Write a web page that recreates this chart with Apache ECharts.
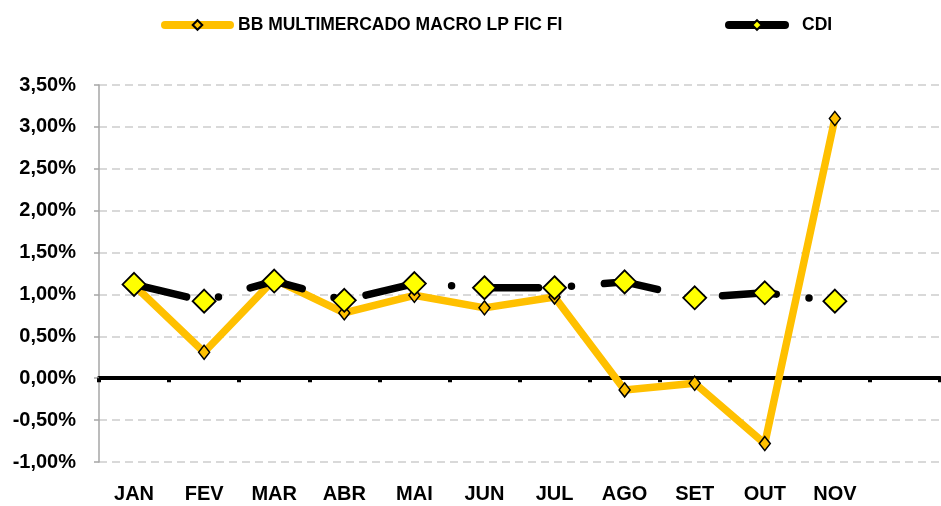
<!DOCTYPE html>
<html>
<head>
<meta charset="utf-8">
<script src="https://cdn.jsdelivr.net/npm/echarts@6/dist/echarts.min.js"></script>
<style>
  html, body { margin: 0; padding: 0; background: #fff; }
  #chart { width: 941px; height: 506px; }
</style>
</head>
<body>
<div id="chart"></div>
<script>
// meses (DEZ fica vazio)
const meses = ['JAN', 'FEV', 'MAR', 'ABR', 'MAI', 'JUN', 'JUL', 'AGO', 'SET', 'OUT', 'NOV', ''];
const fundo = [1.11, 0.31, 1.18, 0.78, 0.99, 0.84, 0.97, -0.14, -0.06, -0.78, 3.10, null];
const cdi = [1.12, 0.92, 1.16, 0.93, 1.13, 1.08, 1.08, 1.15, 0.96, 1.02, 0.92, null];
const nomeFundo = 'BB MULTIMERCADO MACRO LP FIC FI';
const nomeCdi = 'CDI';

const fonte = "'Liberation Sans', Arial, sans-serif";
const chart = echarts.init(document.getElementById('chart'), null, { renderer: 'canvas' });

const fmtPct = v => v.toFixed(2).replace('.', ',') + '%';

chart.setOption({
    animation: false,
    backgroundColor: '#ffffff',
    legend: [
        {
            left: 156,
            top: 11,
            itemWidth: 65,
            itemHeight: 12,
            data: [{
                name: nomeFundo,
                lineStyle: { type: 'solid', cap: 'round', width: 8, color: '#FFC000' }
            }],
            textStyle: { fontFamily: fonte, fontWeight: 'bold', fontSize: 17.5, color: '#000', padding: [0, 0, 0, 3] }
        },
        {
            left: 720,
            top: 11,
            itemWidth: 56,
            itemHeight: 12,
            data: [{
                name: nomeCdi,
                lineStyle: { type: 'solid', cap: 'round', width: 8, color: '#000' }
            }],
            textStyle: { fontFamily: fonte, fontWeight: 'bold', fontSize: 17.5, color: '#000', padding: [0, 0, 0, 12] }
        }
    ],
    grid: {
        left: 99,
        right: 1,
        top: 85,
        bottom: 44
    },
    xAxis: [
        {
            // rótulos na base
            type: 'category',
            data: meses,
            position: 'bottom',
            axisLine: { show: false, onZero: false },
            axisTick: { show: false },
            axisLabel: {
                margin: 22,
                interval: 0,
                fontFamily: fonte,
                fontWeight: 'bold',
                fontSize: 20,
                color: '#000'
            }
        },
        {
            // linha do zero
            type: 'category',
            data: meses,
            position: 'bottom',
            axisLine: { show: true, onZero: true, lineStyle: { color: '#000', width: 4 } },
            axisTick: { show: true, length: 4, lineStyle: { color: '#000', width: 4 } },
            axisLabel: { show: false }
        }
    ],
    yAxis: {
        type: 'value',
        min: -1,
        max: 3.5,
        interval: 0.5,
        axisLine: { show: true, lineStyle: { color: '#A6A6A6', width: 1.5 } },
        axisTick: { show: true, length: 5, lineStyle: { color: '#A6A6A6', width: 1.5 } },
        axisLabel: {
            margin: 23,
            formatter: fmtPct,
            fontFamily: fonte,
            fontWeight: 'bold',
            fontSize: 20,
            color: '#000'
        },
        splitLine: {
            show: true,
            lineStyle: { color: '#D9D9D9', width: 2, type: [8, 5] }
        }
    },
    series: [
        {
            name: nomeFundo,
            type: 'line',
            xAxisIndex: 0,
            data: fundo,
            symbol: 'diamond',
            symbolSize: [11, 14],
            showAllSymbol: true,
            lineStyle: { color: '#FFC000', width: 7.5, cap: 'round', join: 'round' },
            itemStyle: { color: '#FFC000', borderColor: '#000', borderWidth: 1.5 },
            z: 3
        },
        {
            name: nomeCdi,
            type: 'line',
            xAxisIndex: 0,
            data: cdi,
            symbol: 'diamond',
            symbolSize: 23,
            showAllSymbol: true,
            lineStyle: { color: '#000', width: 7.5, type: [54, 33, 0, 33], cap: 'round', join: 'round' },
            itemStyle: { color: '#FFFF00', borderColor: '#000', borderWidth: 1.8 },
            z: 4
        }
    ]
});
</script>
</body>
</html>
